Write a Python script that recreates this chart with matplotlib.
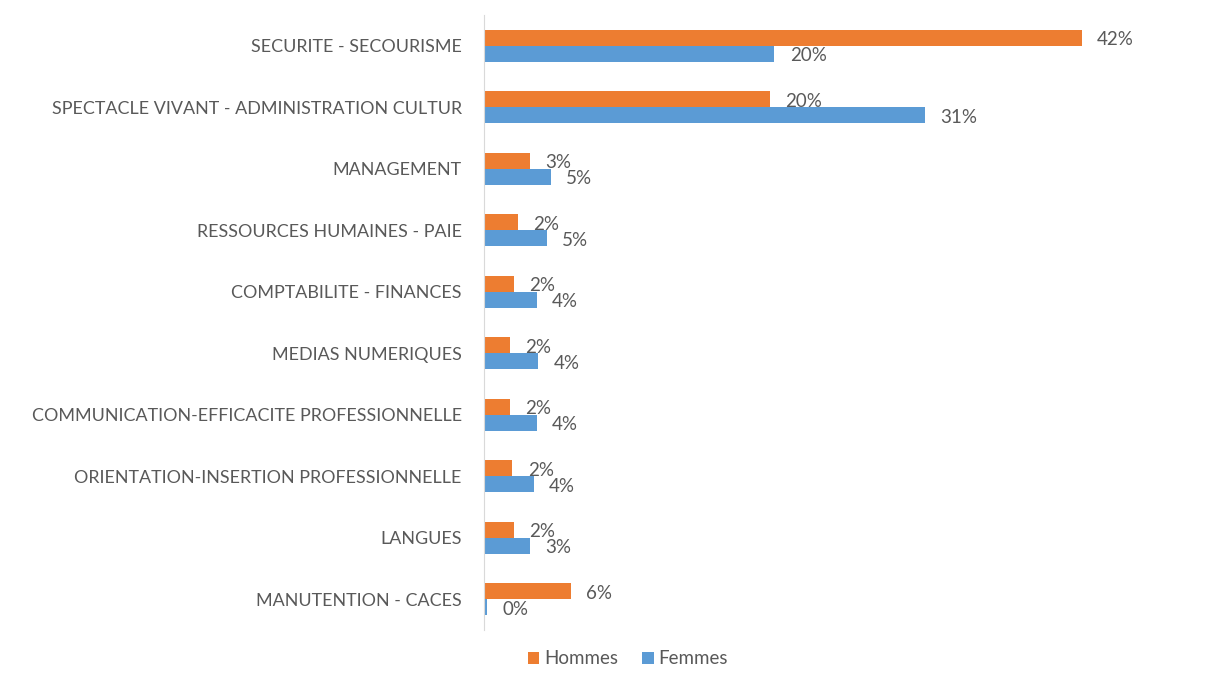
import matplotlib
matplotlib.use("Agg")
import matplotlib.pyplot as plt
import numpy as np

categories = ["SECURITE - SECOURISME",
              "SPECTACLE VIVANT - ADMINISTRATION CULTUR",
              "MANAGEMENT",
              "RESSOURCES HUMAINES - PAIE",
              "COMPTABILITE - FINANCES",
              "MEDIAS NUMERIQUES",
              "COMMUNICATION-EFFICACITE PROFESSIONNELLE",
              "ORIENTATION-INSERTION PROFESSIONNELLE",
              "LANGUES",
              "MANUTENTION - CACES"]
hommes = [42.0, 20.1, 3.2, 2.4, 2.1, 1.8, 1.8, 2.0, 2.1, 6.1]
femmes = [20.4, 31.0, 4.7, 4.4, 3.7, 3.8, 3.7, 3.5, 3.2, 0.2]
hommes_lbl = ["42%", "20%", "3%", "2%", "2%", "2%", "2%", "2%", "2%", "6%"]
femmes_lbl = ["20%", "31%", "5%", "5%", "4%", "4%", "4%", "4%", "3%", "0%"]

plt.rcParams['font.family'] = ['Lato', 'DejaVu Sans']
gris = "#595959"

fig = plt.figure(figsize=(12.21, 6.77), dpi=100)
ax = fig.add_axes([484/1221, 1 - 630/677, (1180-484)/1221, 615/677])

y = np.arange(len(categories))
h = 0.26
b1 = ax.barh(y - h/2, hommes, height=h, color="#ED7D31", label="Hommes")
b2 = ax.barh(y + h/2, femmes, height=h, color="#5B9BD5", label="Femmes")

# etiquettes de valeurs au bout des barres
for i in range(len(categories)):
    ax.annotate(hommes_lbl[i], (hommes[i], y[i] - h/2), xytext=(11, -1.5),
                textcoords="offset points", va="center", ha="left",
                fontsize=13.5, color=gris)
    ax.annotate(femmes_lbl[i], (femmes[i], y[i] + h/2), xytext=(11, -1.5),
                textcoords="offset points", va="center", ha="left",
                fontsize=13.5, color=gris)

ax.set_xlim(0, 48.9)
ax.set_ylim(len(categories) - 0.5, -0.5)
ax.set_yticks(y)
ax.set_yticklabels(categories, fontsize=12.9, color=gris)
ax.tick_params(axis="y", length=0, pad=16)
ax.set_xticks([])
for s in ["top", "right", "bottom"]:
    ax.spines[s].set_visible(False)
ax.spines["left"].set_color("#D9D9D9")

fig.legend(handles=[b1, b2], loc="center", bbox_to_anchor=(628/1221, 1 - 659/677),
           ncol=2, frameon=False, fontsize=13.5, labelcolor=gris,
           handlelength=0.6, handleheight=0.6, handletextpad=0.25, columnspacing=1.3)

fig.savefig("out.png", dpi=100, facecolor="white")
